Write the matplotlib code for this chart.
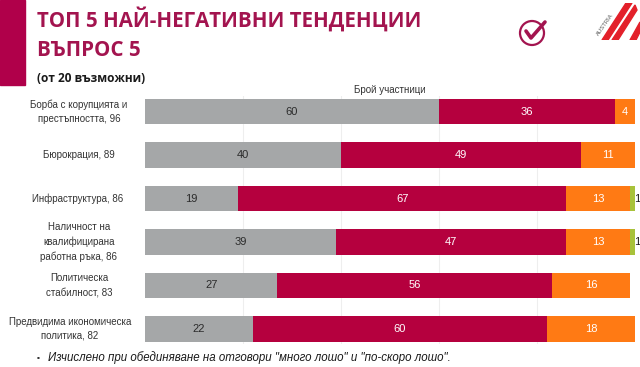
import matplotlib
matplotlib.use("Agg")
import matplotlib.pyplot as plt
from matplotlib.patches import Rectangle, Circle, Polygon
import matplotlib.transforms as mtransforms
import numpy as np

categories = [
    "Борба с корупцията и\nпрестъпността, 96",
    "Бюрокрация, 89",
    "Инфраструктура, 86",
    "Наличност на\nквалифицирана\nработна ръка, 86",
    "Политическа\nстабилност, 83",
    "Предвидима икономическа\nполитика, 82",
]
very_bad = [60, 40, 19, 39, 27, 22]
rather_bad = [36, 49, 67, 47, 56, 60]
neutral = [4, 11, 13, 13, 16, 18]
other = [0, 0, 1, 1, 0, 0]

series = [very_bad, rather_bad, neutral, other]
colors = ["#a5a7a8", "#b5003e", "#ff7a14", "#a8c23a"]
text_colors = ["#2b2b2b", "white", "white", "#1a1a1a"]
label_centers_px = [79, 79, 78, 79, 79, 70]

plt.rcParams["font.family"] = ["Liberation Sans", "DejaVu Sans"]
fig = plt.figure(figsize=(6.4, 3.67), dpi=100)
fig.patch.set_facecolor("white")

ax = fig.add_axes([145/640, 1-344.2/367, 490/640, (344.2-96.3)/367])
y = np.arange(len(categories))
left = np.zeros(len(categories))
for vals, c, tc in zip(series, colors, text_colors):
    vals = np.array(vals, dtype=float)
    ax.barh(y, vals, left=left, height=0.58, color=c, zorder=2)
    for yi, (l, v) in enumerate(zip(left, vals)):
        if v > 0:
            xpos = l + v/2 if v >= 2 else l + v + 0.4
            ax.text(xpos, yi, f"{int(v)}", ha="center", va="center",
                    fontsize=8, color=tc, zorder=3)
    left = left + vals

ax.set_xlim(0, 100)
ax.set_ylim(5.35, -0.35)
ax.set_xticks([20, 40, 60, 80])
ax.grid(axis="x", color="#eeeeee", linewidth=0.8, zorder=0)
ax.tick_params(axis="x", length=0, labelbottom=False)
ax.tick_params(axis="y", length=0, labelleft=False)
ax.set_yticks(y)
for s in ax.spines.values():
    s.set_visible(False)

trans = mtransforms.blended_transform_factory(fig.transFigure, ax.transData)
for yi, lab, cx in zip(y, categories, label_centers_px):
    fig.text(cx/640, yi, lab, transform=trans, ha="center", va="center",
             fontsize=7.0, color="#333333", linespacing=1.5, multialignment="center")

fig.text(390/640, 1-90/367, "Брой участници", ha="center", va="center",
         fontsize=7, color="#333333")

# Left accent bar
fig.patches.append(Rectangle((0, 1-85/367), 25/640, 85/367, transform=fig.transFigure,
                             color="#b0004a", zorder=1))

title_color = "#a3144f"
tfam = ["Open Sans", "DejaVu Sans"]
fig.text(37/640, 1-19/367, "ТОП 5 НАЙ-НЕГАТИВНИ ТЕНДЕНЦИИ", ha="left", va="center",
         fontsize=14.8, fontweight="bold", color=title_color, family=tfam)
fig.text(37/640, 1-51/367, "ВЪПРОС 5", ha="left", va="center",
         fontsize=14.8, fontweight="bold", color=title_color, family=tfam)
fig.text(37/640, 1-78/367, "(от 20 възможни)", ha="left", va="center",
         fontsize=8.6, fontweight="bold", color="#1a1a1a", family=tfam)

# Check logo
lc = "#a3144f"
ax_logo = fig.add_axes([516/640, 1-50/367, 34/640, 34/367])
ax_logo.set_xlim(0, 34); ax_logo.set_ylim(0, 34); ax_logo.axis("off")
ax_logo.add_patch(Circle((16, 17), 12, fill=False, ec=lc, lw=1.6))
ax_logo.plot([10, 15, 29], [19, 12, 28], color=lc, lw=2.6, solid_capstyle="round")

# Austria logo
ax_a = fig.add_axes([592/640, 1-40/367, 48/640, 37/367])
ax_a.set_xlim(0, 48); ax_a.set_ylim(0, 37); ax_a.axis("off")
red = "#e3202a"
ax_a.add_patch(Polygon([[10, 0], [16, 0], [40, 37], [34, 37]], color=red))
ax_a.add_patch(Polygon([[20, 0], [26, 0], [45, 30], [43, 35]], color=red))
ax_a.add_patch(Polygon([[38, 0], [44, 0], [48, 8], [48, 18]], color=red))
ax_a.text(13, 15, "AUSTRIA", rotation=55, fontsize=4.2, color="#555555",
          ha="center", va="center")

fig.text(37/640, 1-358/367, "▪", ha="left", va="center", fontsize=6, color="#333333")
fig.text(48/640, 1-358/367,
         "Изчислено при обединяване на отговори \"много лошо\" и \"по-скоро лошо\".",
         ha="left", va="center", fontsize=8.3, style="italic", color="#1a1a1a")

fig.savefig("out.png", dpi=100, facecolor="white")
